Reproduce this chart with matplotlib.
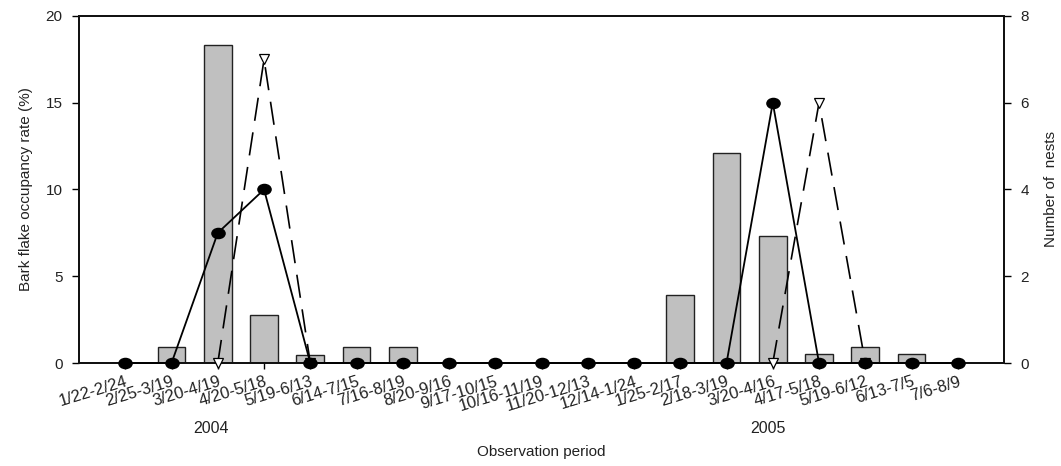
import matplotlib
matplotlib.use("Agg")
import matplotlib.pyplot as plt
import numpy as np
from matplotlib.path import Path
from matplotlib.transforms import Affine2D

plt.rcParams["font.family"] = ["Liberation Sans", "DejaVu Sans"]

# Observation periods (2004 season then 2005 season)
PERIODS = [
    "1/22-2/24", "2/25-3/19", "3/20-4/19", "4/20-5/18", "5/19-6/13",
    "6/14-7/15", "7/16-8/19", "8/20-9/16", "9/17-10/15", "10/16-11/19",
    "11/20-12/13", "12/14-1/24", "1/25-2/17", "2/18-3/19", "3/20-4/16",
    "4/17-5/18", "5/19-6/12", "6/13-7/5", "7/6-8/9",
]

# Bark flake occupancy rate (%) - bars, left axis
OCCUPANCY = [0, 0.9, 18.3, 2.75, 0.45, 0.9, 0.9, 0, 0, 0,
             0, 0, 3.9, 12.1, 7.3, 0.5, 0.95, 0.5, 0]

# Number of nests - solid line with filled circles, right axis
NESTS_CIRCLE = [0, 0, 3, 4, 0, 0, 0, 0, 0, 0,
                0, 0, 0, 0, 6, 0, 0, 0, 0]

# Number of nests - dashed line with open triangles (only during breeding)
nan = np.nan
NESTS_TRIANGLE = [nan, nan, 0, 7, 0, nan, nan, nan, nan, nan,
                  nan, nan, nan, nan, 0, 6, 0, nan, nan]

YEARS = ["2004", "2005"]
YEAR_POS = [1.85, 13.9]

TEXT = "#222222"

x = np.arange(len(PERIODS))

# the source picture is slightly stretched sideways, so the dots are ellipses
dot = Path.unit_circle().transformed(Affine2D().scale(1.3, 1.0))

fig = plt.figure(figsize=(10.61, 4.66), dpi=100)
ax = fig.add_axes([0.0745, 0.221, 0.8718, 0.7447])
ax2 = ax.twinx()

ax.bar(x, OCCUPANCY, width=0.6, color="#c0c0c0", edgecolor="#222222", lw=1.0, zorder=2)
ax.set_xlim(-1, len(PERIODS))
ax.set_ylim(0, 20)
ax.set_yticks([0, 5, 10, 15, 20])

ax2.plot(x, NESTS_TRIANGLE, color="black", lw=1.2, dashes=(14, 7),
         marker="v", ms=7, mfc="white", mec="black", mew=0.9, clip_on=False, zorder=3)
ax2.plot(x, NESTS_CIRCLE, color="black", lw=1.3, marker=dot, ms=9.5,
         mfc="black", mec="black", clip_on=False, zorder=4)
ax2.set_ylim(0, 8)
ax2.set_yticks([0, 2, 4, 6, 8])

ax.set_xticks(x)
ax.set_xticklabels(PERIODS, rotation=17, ha="right", rotation_mode="anchor",
                   fontsize=12, color=TEXT)
ax.tick_params(axis="x", length=4, width=1.0, pad=4)
ax.tick_params(axis="y", length=5, width=1.0, pad=7, labelsize=11, labelcolor=TEXT)
ax2.tick_params(axis="y", length=5, width=1.0, pad=7, labelsize=11, labelcolor=TEXT)

for a in (ax, ax2):
    for s in a.spines.values():
        s.set_linewidth(1.3)
        s.set_color("#111111")

ax.set_ylabel("Bark flake occupancy rate (%)", fontsize=11, color=TEXT, labelpad=9)
ax2.set_ylabel("Number of  nests", fontsize=11, color=TEXT, labelpad=11)
ax.set_xlabel("Observation period", fontsize=11, color=TEXT, labelpad=22)

for yr, pos in zip(YEARS, YEAR_POS):
    ax.text(pos, -0.19, yr, transform=ax.get_xaxis_transform(),
            ha="center", va="center", fontsize=11.5, color=TEXT)

fig.savefig("out.png", dpi=100)
